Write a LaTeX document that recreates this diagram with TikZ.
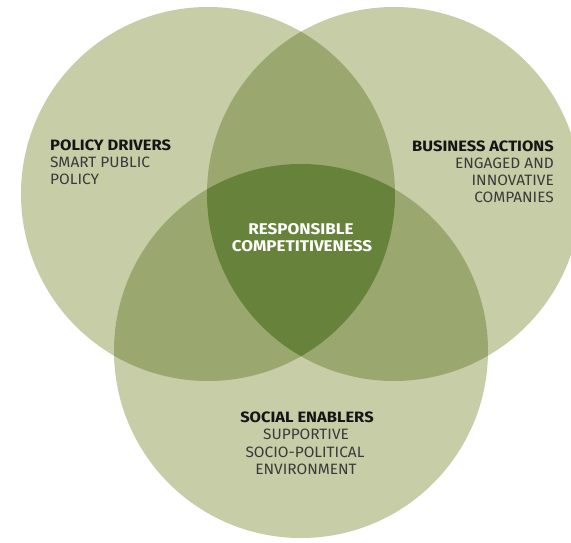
\documentclass[tikz,border=0pt]{standalone}
\usepackage{fontspec}
\setmainfont{Fira Sans}
\definecolor{lightg}{HTML}{C6CDA7}
\definecolor{midg}{HTML}{9AA870}
\definecolor{darkg}{HTML}{67823A}
\definecolor{titlec}{HTML}{151515}
\definecolor{subc}{HTML}{3A3A3A}
\tikzset{
  ttl/.style={inner sep=0pt, font=\fontsize{15}{15}\selectfont\bfseries, text=titlec},
  sub/.style={inner sep=0pt, font=\fontsize{15}{15}\selectfont, text=subc},
  ctr/.style={inner sep=0pt, font=\fontsize{15.5}{15.5}\selectfont\bfseries, text=white},
}
\newcommand{\nx}[1]{\scalebox{1.1}[1]{#1}}
\newcommand{\ny}[1]{\scalebox{1.03}[1]{#1}}
\begin{document}
\begin{tikzpicture}[x=1pt,y=1pt]
\useasboundingbox (0,0) rectangle (571,543);
\fill[white] (0,0) rectangle (571,543);
\coordinate (L) at (208,349);
\coordinate (R) at (394,349);
\coordinate (B) at (301,192);
\def\rr{187}
% single circles
\fill[lightg] (L) circle (\rr);
\fill[lightg] (R) circle (\rr);
\fill[lightg] (B) circle (\rr);
% pairwise overlaps
\begin{scope}
  \clip (L) circle (\rr);
  \fill[midg] (R) circle (\rr);
  \fill[midg] (B) circle (\rr);
\end{scope}
\begin{scope}
  \clip (R) circle (\rr);
  \fill[midg] (B) circle (\rr);
\end{scope}
% triple overlap
\begin{scope}
  \clip (L) circle (\rr);
  \clip (R) circle (\rr);
  \fill[darkg] (B) circle (\rr);
\end{scope}
% texts (baseline anchors)
\node[ttl, anchor=base west] (pd) at (50,392) {\nx{POLICY DRIVERS}};
\node[sub, anchor=base west] (pd1) at (50,375) {\ny{SMART PUBLIC}};
\node[sub, anchor=base west] (pd2) at (50,358) {\ny{POLICY}};

\node[ttl, anchor=base east] (ba) at (554,391.5) {\nx{BUSINESS ACTIONS}};
\node[sub, anchor=base east] (ba1) at (554,374.5) {\ny{ENGAGED AND}};
\node[sub, anchor=base east] (ba2) at (554,357.5) {\ny{INNOVATIVE}};
\node[sub, anchor=base east] (ba3) at (554,340.5) {\ny{COMPANIES}};

\node[ctr, anchor=base] (rc1) at (301,308) {\nx{RESPONSIBLE}};
\node[ctr, anchor=base] (rc2) at (302,291.3) {\nx{COMPETITIVENESS}};

\node[ttl, anchor=base] (se) at (307,120.5) {\nx{SOCIAL ENABLERS}};
\node[sub, anchor=base] (se1) at (306,103) {\ny{SUPPORTIVE}};
\node[sub, anchor=base] (se2) at (305,85.5) {\ny{SOCIO-POLITICAL}};
\node[sub, anchor=base] (se3) at (306,68) {\ny{ENVIRONMENT}};
\end{tikzpicture}
\end{document}
